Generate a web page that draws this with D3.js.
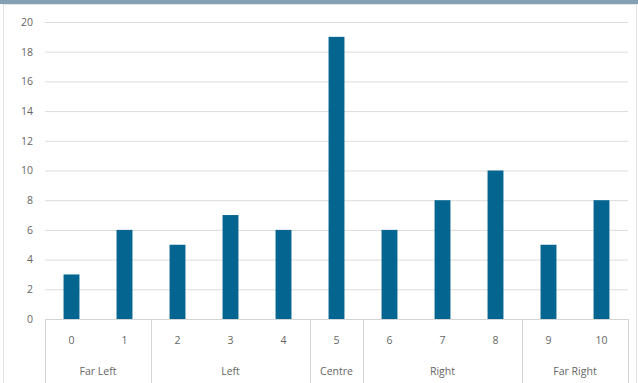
<!DOCTYPE html>
<html>
<head>
<meta charset="utf-8">
<script src="https://cdn.jsdelivr.net/npm/d3@7"></script>
<style>
  html, body { margin: 0; padding: 0; background: #fff; }
  svg text { font-family: "Open Sans", "Liberation Sans", sans-serif; }
</style>
</head>
<body>
<svg id="chart" width="638" height="383"></svg>
<script>
// Scale positions (0 = far left, 10 = far right) and respondent counts
const positions = ["0", "1", "2", "3", "4", "5", "6", "7", "8", "9", "10"];
const counts = [3, 6, 5, 7, 6, 19, 6, 8, 10, 5, 8];

// Group bands along the scale: label, first and last position
const groupNames = ["Far Left", "Left", "Centre", "Right", "Far Right"];
const groupStart = [0, 2, 5, 6, 9];
const groupEnd = [1, 4, 5, 8, 10];

const yTicks = [0, 2, 4, 6, 8, 10, 12, 14, 16, 18, 20];

const svg = d3.select("#chart");
const W = 638, H = 383;
const plot = { left: 45, right: 628, top: 22, bottom: 319 };

// Header strip and outer frame
svg.append("rect").attr("x", 0).attr("y", 0).attr("width", W).attr("height", 4)
  .attr("fill", "#829fb5");
svg.append("rect").attr("x", 3.5).attr("y", 4.5).attr("width", W - 5).attr("height", H)
  .attr("fill", "none").attr("stroke", "#e3e3e3");

const x = d3.scaleBand().domain(positions).range([plot.left, plot.right]).paddingInner(0.7).paddingOuter(0.35);
const y = d3.scaleLinear().domain([0, 20]).range([plot.bottom, plot.top]);

// Horizontal gridlines and value labels
const yAxis = d3.axisLeft(y).tickValues(yTicks).tickSize(-(plot.right - plot.left)).tickPadding(12);
const gy = svg.append("g").attr("transform", `translate(${plot.left},0)`).call(yAxis);
gy.select(".domain").remove();
gy.selectAll(".tick line").attr("stroke", "#dcdcdc").attr("stroke-width", 1);
gy.selectAll(".tick text").attr("fill", "#666").attr("font-size", 10.5);

// Bars
svg.append("g").selectAll("rect").data(counts).join("rect")
  .attr("x", (d, i) => x(positions[i]))
  .attr("y", d => y(d))
  .attr("width", x.bandwidth())
  .attr("height", d => y(0) - y(d))
  .attr("fill", "#046690");

// Category axis: baseline, position labels, group labels and separators
const gx = svg.append("g");
gx.append("line").attr("x1", plot.left).attr("x2", plot.right)
  .attr("y1", plot.bottom + 0.5).attr("y2", plot.bottom + 0.5).attr("stroke", "#d4d4d4");
gx.selectAll("text.pos").data(positions).join("text").attr("class", "pos")
  .attr("x", d => x(d) + x.bandwidth() / 2).attr("y", 344)
  .attr("text-anchor", "middle").attr("font-size", 10.5).attr("fill", "#666").text(d => d);

const step = x.step();
const edge = i => plot.left + (x(positions[i]) - plot.left - x.paddingOuter() * step) ;
const bounds = groupStart.map(s => x(positions[s]) - (x.paddingOuter() * step)).concat([plot.right]);
bounds.forEach(bx => {
  gx.append("line").attr("x1", Math.round(bx) + 0.5).attr("x2", Math.round(bx) + 0.5)
    .attr("y1", plot.bottom).attr("y2", H).attr("stroke", "#d4d4d4");
});
gx.selectAll("text.grp").data(groupNames).join("text").attr("class", "grp")
  .attr("x", (d, i) => (x(positions[groupStart[i]]) + x(positions[groupEnd[i]]) + x.bandwidth()) / 2)
  .attr("y", 375).attr("text-anchor", "middle").attr("font-size", 10.5).attr("fill", "#666").text(d => d);
</script>
</body>
</html>
